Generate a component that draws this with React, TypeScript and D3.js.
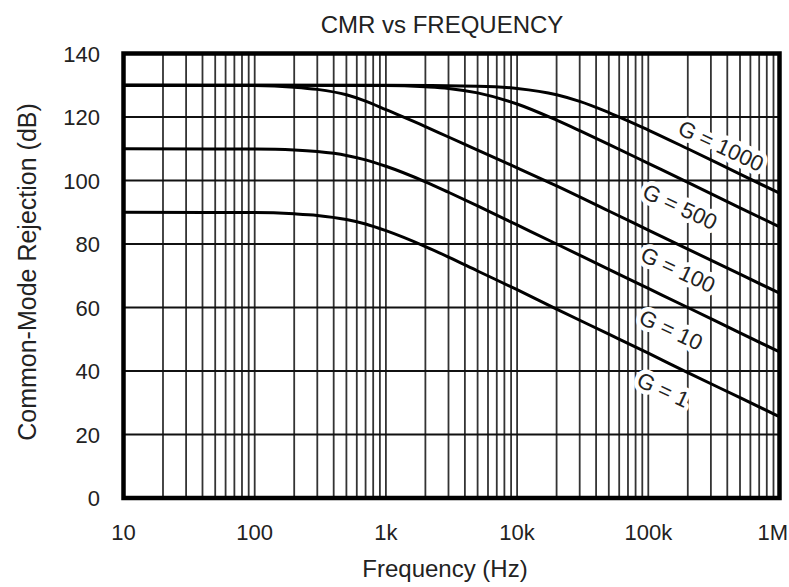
import React from "react";
import * as d3 from "d3";

const FREQ_TICKS = [10, 100, 1000, 10000, 100000, 1000000];
const FREQ_TICK_LABELS = ["10", "100", "1k", "10k", "100k", "1M"];
const DB_TICKS = [0, 20, 40, 60, 80, 100, 120, 140];

const G1: [number, number][] = [
  [10, 90], [100, 89.9], [200, 89.5], [300, 89.0], [500, 87.7], [700, 86.3],
  [1000, 84.2], [2000, 79.2], [3000, 75.9], [5000, 71.5], [10000, 65.6],
  [20000, 59.5], [50000, 51.6], [100000, 45.6], [200000, 39.5], [500000, 31.6], [1000000, 25.6],
];
const G10: [number, number][] = [
  [10, 110], [100, 109.9], [200, 109.6], [300, 109.1], [500, 107.9], [700, 106.5],
  [1000, 104.5], [2000, 99.6], [3000, 96.3], [5000, 92.0], [10000, 86.0],
  [20000, 80.0], [50000, 72.0], [100000, 66.0], [200000, 60.0], [500000, 52.0], [1000000, 46.0],
];
const G100: [number, number][] = [
  [10, 130], [100, 129.9], [200, 129.4], [300, 128.7], [500, 127.0], [700, 125.0],
  [1000, 122.3], [2000, 117.0], [3000, 113.7], [5000, 109.6], [10000, 104.0],
  [20000, 98.3], [50000, 90.4], [100000, 84.4], [200000, 78.4], [500000, 70.5], [1000000, 64.5],
];
const G500: [number, number][] = [
  [10, 130], [1000, 129.9], [2000, 129.5], [3000, 129.0], [5000, 127.6], [10000, 124.1],
  [20000, 119.0], [30000, 115.7], [50000, 111.4], [100000, 105.4], [200000, 99.4],
  [500000, 91.4], [1000000, 85.4],
];
const G1000: [number, number][] = [
  [10, 130], [1000, 130], [5000, 129.7], [10000, 129.0], [20000, 127.0], [30000, 124.9],
  [50000, 121.4], [100000, 115.9], [200000, 110.0], [500000, 102.0], [1000000, 96.0],
];

const SERIES = [G1, G10, G100, G500, G1000];
const LABELS = ["G = 1", "G = 10", "G = 100", "G = 500", "G = 1000"];
const LABEL_POS: [number, number][] = [
  [663, 390], [671, 330], [678, 270], [680, 207], [721, 146],
];

export default function App() {
  const W = 789, H = 587;
  const x0 = 123.5, x1 = 779.5, yTop = 53.5, yBot = 498;
  const x = d3.scaleLog().domain([10, 1000000]).range([x0, x1]);
  const y = d3.scaleLinear().domain([0, 140]).range([yBot, yTop]);
  const line = d3
    .line<[number, number]>()
    .x((d) => x(d[0]))
    .y((d) => y(d[1]))
    .curve(d3.curveMonotoneX);

  const minor: number[] = [];
  for (let dec = 10; dec < 1000000; dec *= 10) {
    for (let m = 2; m <= 10; m++) minor.push(dec * m);
  }
  const font = "'Liberation Sans', Arial, Helvetica, sans-serif";

  return (
    <svg
      width={W}
      height={H}
      style={{ position: "absolute", left: 0, top: 0, background: "#fff" }}
      fontFamily={font}
    >
      <rect x={0} y={0} width={W} height={H} fill="#fff" />
      {/* vertical grid */}
      {minor.map((f, i) => (
        <line key={"v" + i} x1={x(f)} x2={x(f)} y1={yTop} y2={yBot} stroke="#333" strokeWidth={1.8} />
      ))}
      {/* horizontal grid */}
      {DB_TICKS.slice(1, -1).map((v) => (
        <line key={"h" + v} x1={x0} x2={x1} y1={y(v)} y2={y(v)} stroke="#111" strokeWidth={1.8} />
      ))}
      {/* labels with white halo */}
      {LABELS.map((t, i) => (
        <text
          key={"l" + i}
          x={LABEL_POS[i][0]}
          y={LABEL_POS[i][1]}
          transform={`rotate(25 ${LABEL_POS[i][0]} ${LABEL_POS[i][1]})`}
          textAnchor="middle"
          dominantBaseline="central"
          fontSize={22}
          fill="#222"
          stroke="#fff"
          strokeWidth={9}
          strokeLinejoin="round"
          paintOrder="stroke"
        >
          {t}
        </text>
      ))}
      {/* curves */}
      {SERIES.map((s, i) => (
        <path key={"c" + i} d={line(s) || ""} fill="none" stroke="#000" strokeWidth={3} />
      ))}
      {/* frame */}
      <rect x={x0} y={yTop} width={x1 - x0} height={yBot - yTop} fill="none" stroke="#000" strokeWidth={4.5} />
      {/* y ticks */}
      {DB_TICKS.map((v) => (
        <text key={"yt" + v} x={100} y={y(v) + 8} textAnchor="end" fontSize={22} fill="#222">
          {v}
        </text>
      ))}
      {/* x ticks */}
      {FREQ_TICKS.map((f, i) => (
        <text
          key={"xt" + f}
          x={i === FREQ_TICKS.length - 1 ? 788 : x(f)}
          y={540}
          textAnchor={i === FREQ_TICKS.length - 1 ? "end" : "middle"}
          fontSize={22}
          fill="#222"
        >
          {FREQ_TICK_LABELS[i]}
        </text>
      ))}
      <text x={442} y={33} textAnchor="middle" fontSize={24} fill="#222">
        CMR vs FREQUENCY
      </text>
      <text x={445} y={577} textAnchor="middle" fontSize={24} fill="#222">
        Frequency (Hz)
      </text>
      <text
        transform={`translate(36 272) rotate(-90)`}
        textAnchor="middle"
        fontSize={25}
        fill="#222"
      >
        Common-Mode Rejection (dB)
      </text>
    </svg>
  );
}
